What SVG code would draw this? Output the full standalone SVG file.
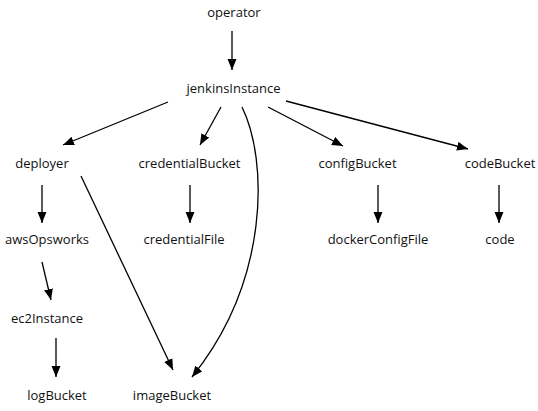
<svg xmlns="http://www.w3.org/2000/svg" width="538" height="411" viewBox="0 0 538 411">
<defs>
<marker id="ah" markerUnits="userSpaceOnUse" markerWidth="11" markerHeight="10" refX="11" refY="4.5" orient="auto">
<path d="M0,0 L11,4.5 L0,9 z" fill="#000"/>
</marker>
<style>
.n text{font-family:"Open Sans","Noto Sans",sans-serif;font-size:13px;fill:#111;text-anchor:middle}
.e path{fill:none;stroke:#000;stroke-width:1.3;marker-end:url(#ah)}
</style>
</defs>
<rect width="538" height="411" fill="#fff"/>
<g id="edges" class="e">
<path d="M232,31 L232,70"/>
<path d="M168,102 L63,145"/>
<path d="M221,107 L200,145"/>
<path d="M242,107 C268,160 270,280 192,377"/>
<path d="M268,107 L343,146"/>
<path d="M286,101 L468,149"/>
<path d="M42,185 L42,223"/>
<path d="M81,176 L173,370"/>
<path d="M42,262 L51,300"/>
<path d="M56,338 L56,377"/>
<path d="M190,185 L190,223"/>
<path d="M378,185 L378,223"/>
<path d="M499,185 L499,223"/>
</g>
<g id="operator" class="n"><text x="234" y="17">operator</text></g>
<g id="jenkinsInstance" class="n"><text x="233.5" y="93">jenkinsInstance</text></g>
<g id="deployer" class="n"><text x="42" y="168">deployer</text></g>
<g id="credentialBucket" class="n"><text x="189.5" y="168">credentialBucket</text></g>
<g id="configBucket" class="n"><text x="357.5" y="168">configBucket</text></g>
<g id="codeBucket" class="n"><text x="500" y="168">codeBucket</text></g>
<g id="awsOpsworks" class="n"><text x="47" y="244">awsOpsworks</text></g>
<g id="credentialFile" class="n"><text x="184" y="244">credentialFile</text></g>
<g id="dockerConfigFile" class="n"><text x="378" y="244">dockerConfigFile</text></g>
<g id="code" class="n"><text x="500" y="244">code</text></g>
<g id="ec2Instance" class="n"><text x="47" y="323">ec2Instance</text></g>
<g id="logBucket" class="n"><text x="57" y="400">logBucket</text></g>
<g id="imageBucket" class="n"><text x="172" y="400">imageBucket</text></g>
</svg>
